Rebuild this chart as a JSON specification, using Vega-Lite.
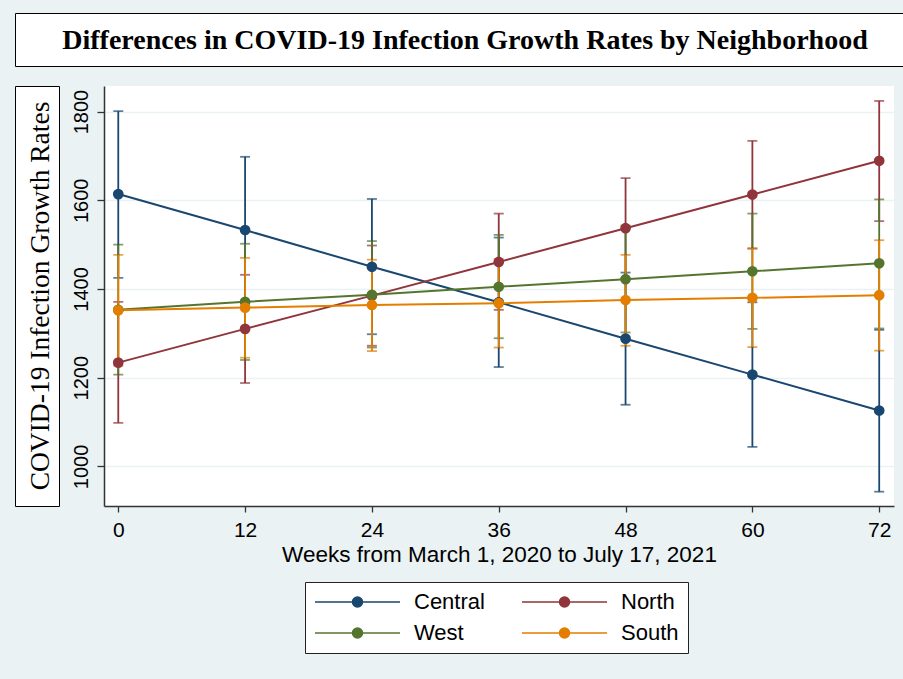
{
  "$schema": "https://vega.github.io/schema/vega-lite/v6.json",
  "background": "#eaf2f3",
  "padding": {"left": 14, "top": 12, "right": 0, "bottom": 30},
  "spacing": 18,
  "config": {
    "view": {"stroke": null},
    "font": "Liberation Sans",
    "axis": {"labelFont": "Liberation Sans", "titleFont": "Liberation Sans", "labelColor": "black", "titleColor": "black"}
  },
  "datasets": {
    "est": [
      {"region": "Central", "week": 0, "est": 1614, "lo": 1425, "hi": 1801},
      {"region": "Central", "week": 12, "est": 1533, "lo": 1368, "hi": 1698},
      {"region": "Central", "week": 24, "est": 1450, "lo": 1298, "hi": 1603},
      {"region": "Central", "week": 36, "est": 1370, "lo": 1224, "hi": 1516},
      {"region": "Central", "week": 48, "est": 1288, "lo": 1139, "hi": 1437},
      {"region": "Central", "week": 60, "est": 1207, "lo": 1044, "hi": 1370},
      {"region": "Central", "week": 72, "est": 1126, "lo": 943, "hi": 1308},
      {"region": "North", "week": 0, "est": 1234, "lo": 1098, "hi": 1371},
      {"region": "North", "week": 12, "est": 1310, "lo": 1188, "hi": 1432},
      {"region": "North", "week": 24, "est": 1385, "lo": 1272, "hi": 1498},
      {"region": "North", "week": 36, "est": 1461, "lo": 1353, "hi": 1570},
      {"region": "North", "week": 48, "est": 1537, "lo": 1424, "hi": 1650},
      {"region": "North", "week": 60, "est": 1613, "lo": 1491, "hi": 1734},
      {"region": "North", "week": 72, "est": 1689, "lo": 1553, "hi": 1824},
      {"region": "West", "week": 0, "est": 1353, "lo": 1207, "hi": 1500},
      {"region": "West", "week": 12, "est": 1371, "lo": 1240, "hi": 1502},
      {"region": "West", "week": 24, "est": 1387, "lo": 1268, "hi": 1508},
      {"region": "West", "week": 36, "est": 1405, "lo": 1289, "hi": 1522},
      {"region": "West", "week": 48, "est": 1422, "lo": 1302, "hi": 1543},
      {"region": "West", "week": 60, "est": 1440, "lo": 1310, "hi": 1570},
      {"region": "West", "week": 72, "est": 1458, "lo": 1311, "hi": 1602},
      {"region": "South", "week": 0, "est": 1352, "lo": 1227, "hi": 1477},
      {"region": "South", "week": 12, "est": 1358, "lo": 1245, "hi": 1470},
      {"region": "South", "week": 24, "est": 1364, "lo": 1260, "hi": 1466},
      {"region": "South", "week": 36, "est": 1368, "lo": 1268, "hi": 1468},
      {"region": "South", "week": 48, "est": 1375, "lo": 1272, "hi": 1477},
      {"region": "South", "week": 60, "est": 1380, "lo": 1269, "hi": 1492},
      {"region": "South", "week": 72, "est": 1386, "lo": 1261, "hi": 1510}
    ]
  },
  "vconcat": [
    {
      "width": 900,
      "height": 53,
      "view": {"fill": "white", "stroke": "black", "strokeWidth": 1},
      "data": {"values": [{"t": "Differences in COVID-19 Infection Growth Rates by Neighborhood"}]},
      "mark": {"type": "text", "font": "Liberation Serif", "fontWeight": "bold", "fontSize": 28, "baseline": "alphabetic", "dy": 9.5, "color": "black"},
      "encoding": {"text": {"field": "t"}}
    },
    {
      "spacing": 10,
      "hconcat": [
        {
          "width": 44,
          "height": 420,
          "view": {"fill": "white", "stroke": "black", "strokeWidth": 1},
          "data": {"values": [{"t": "COVID-19 Infection Growth Rates"}]},
          "mark": {"type": "text", "font": "Liberation Serif", "fontSize": 27.5, "angle": 270, "baseline": "alphabetic", "dy": 12, "color": "black"},
          "encoding": {
            "text": {"field": "t"}
          }
        },
        {
          "width": 790,
          "height": 420,
          "view": {"fill": "white", "stroke": null},
          "data": {"name": "est"},
          "encoding": {
            "x": {
              "field": "week", "type": "quantitative",
              "scale": {"domain": [-1.35, 73.4], "nice": false, "zero": false},
              "axis": {
                "values": [0, 12, 24, 36, 48, 60, 72], "grid": false,
                "domainColor": "#333333", "domainWidth": 1.5, "tickColor": "#333333", "tickWidth": 1.3, "tickSize": 6,
                "labelFontSize": 21, "labelPadding": 7,
                "title": "Weeks from March 1, 2020 to July 17, 2021", "titleFontSize": 22.5, "titleFontWeight": "normal", "titlePadding": 3
              }
            }
          },
          "layer": [
            {
              "mark": {"type": "errorbar", "ticks": true, "size": 10, "thickness": 1.8},
              "encoding": {
                "y": {
                  "field": "lo", "type": "quantitative",
                  "scale": {"domain": [910.7, 1857.7], "nice": false, "zero": false},
                  "axis": {
                    "values": [1000, 1200, 1400, 1600, 1800], "format": "d", "title": null,
                    "grid": true, "gridColor": "#eaf2f3", "gridWidth": 1.6,
                    "domainColor": "#333333", "domainWidth": 1.5, "tickColor": "#333333", "tickWidth": 1.3, "tickSize": 7,
                    "labelAngle": 270, "labelAlign": "center", "labelBaseline": "alphabetic", "labelFontSize": 20, "labelPadding": 10,
                    "minExtent": 34, "maxExtent": 34
                  }
                },
                "y2": {"field": "hi"},
                "color": {
                  "field": "region", "type": "nominal",
                  "scale": {"domain": ["Central", "North", "West", "South"], "range": ["#1a476f", "#90353b", "#55752f", "#e37e00"]},
                  "legend": {
                    "title": null, "orient": "none", "legendX": 290, "legendY": 569, "columns": 2, "direction": "horizontal",
                    "fillColor": "white", "strokeColor": "#222222", "padding": 9, "columnPadding": 36, "rowPadding": 9, "clipHeight": 22,
                    "symbolType": "M-1,0L1,0M-0.118,0A0.118,0.118,0,1,1,0.118,0A0.118,0.118,0,1,1,-0.118,0Z",
                    "symbolSize": 7225, "symbolStrokeWidth": 1.5, "symbolOpacity": 1,
                    "labelFont": "Liberation Sans", "labelFontSize": 22, "labelColor": "black", "labelOffset": 13,
                    "encode": {"symbols": {"update": {"fill": {"scale": "color", "field": "value"}, "stroke": {"scale": "color", "field": "value"}}}}
                  }
                }
              }
            },
            {
              "mark": {"type": "line", "strokeWidth": 2},
              "encoding": {
                "y": {"field": "est", "type": "quantitative"},
                "color": {"field": "region", "type": "nominal"}
              }
            },
            {
              "mark": {"type": "point", "filled": true, "size": 115, "opacity": 1},
              "encoding": {
                "y": {"field": "est", "type": "quantitative"},
                "color": {"field": "region", "type": "nominal"}
              }
            }
          ]
        }
      ]
    }
  ]
}
